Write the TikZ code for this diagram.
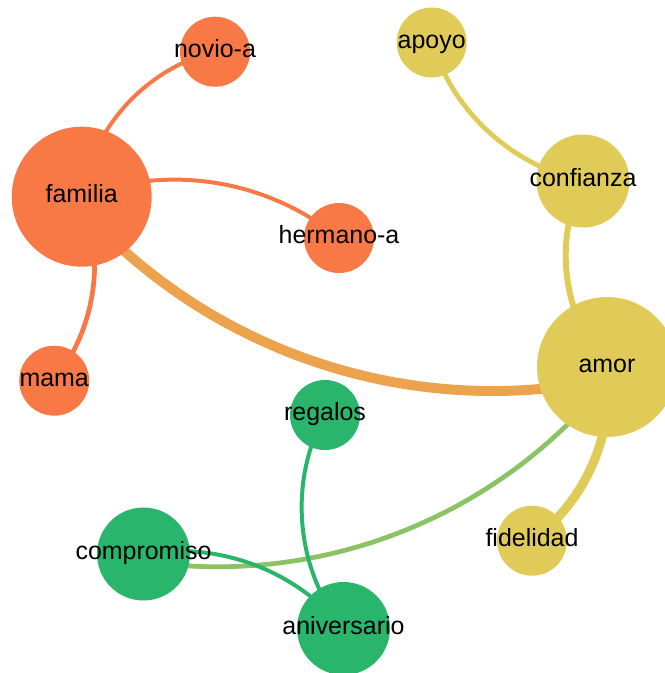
\documentclass[tikz,border=0pt]{standalone}
\usepackage{fontspec}
\setmainfont{Liberation Sans}
\usetikzlibrary{backgrounds}

% palette
\definecolor{famorange}{HTML}{F87946}
\definecolor{amoryellow}{HTML}{E1CB58}
\definecolor{giftgreen}{HTML}{2AB56C}
\definecolor{linkorange}{HTML}{EDA34E}
\definecolor{linkgreen}{HTML}{89C363}

\tikzset{
  term/.style={circle, inner sep=0pt, draw=none, minimum size=#1},
  small/.style={term=1.4cm},
  medium/.style={term=1.86cm},
  large/.style={term=2.8cm},
  word/.style={label={[font=\fontsize{14.2}{17}\selectfont, text height=10.65pt, text depth=3.55pt, yshift=0.4pt, text=black]center:#1}},
  link/.style={line cap=butt, looseness=0.912},
  thin/.style={line width=2.27pt},
  mid/.style={line width=2.7pt},
  wide/.style={line width=3.4pt},
  heavy/.style={line width=5.2pt},
  heaviest/.style={line width=5.67pt},
}

\begin{document}
\begin{tikzpicture}[x=0.02cm, y=-0.02cm]
  \useasboundingbox (0,0) rectangle (665,673);
  \clip (0,0) rectangle (665,673);

  % family cluster
  \node[large,  fill=famorange, word=familia]   (familia)  at (81.7,196.7) {};
  \node[small,  fill=famorange, word=novio-a]   (novio)    at (215,51.7) {};
  \node[small,  fill=famorange, word=hermano-a] (hermano)  at (339,238) {};
  \node[small,  fill=famorange, word=mama]      (mama)     at (54.2,380.7) {};

  % love cluster
  \node[small,  fill=amoryellow, word=apoyo]     (apoyo)     at (431.7,42.5) {};
  \node[medium, fill=amoryellow, word=confianza] (confianza) at (583,181) {};
  \node[large,  fill=amoryellow, word=amor]      (amor)      at (607,367) {};
  \node[small,  fill=amoryellow, word=fidelidad] (fidelidad) at (532,540.7) {};

  % commitment cluster
  \node[small,  fill=giftgreen, word=regalos]     (regalos)     at (325,415) {};
  \node[medium, fill=giftgreen, word=compromiso]  (compromiso)  at (143.5,554) {};
  \node[medium, fill=giftgreen, word=aniversario] (aniversario) at (343.5,628.5) {};

  % arcs between term centres, kept beneath the circles
  \begin{scope}[on background layer]
    \draw[link, thin, famorange]  (familia.center) to[bend left=34]  (novio.center);
    \draw[link, thin, famorange]  (familia.center) to[bend left=30]  (hermano.center);
    \draw[link, mid,  famorange]  (familia.center) to[bend left=30]  (mama.center);
    \draw[link, heaviest, linkorange]
      ([yshift=-6.8pt]familia.center) to[bend right=30] ([yshift=-6.8pt]amor.center);

    \draw[link, mid,   amoryellow] (apoyo.center)     to[bend right=30] (confianza.center);
    \draw[link, wide,  amoryellow] (confianza.center) to[bend right=34] (amor.center);
    \draw[link, heavy, amoryellow] (amor.center)      to[bend left=30]  (fidelidad.center);

    \draw[link, mid,  linkgreen]
      ([xshift=2.8pt, yshift=-4.5pt]amor.center) to[bend left=30] ([xshift=2.8pt, yshift=-4.5pt]compromiso.center);
    \draw[link, thin, giftgreen] (compromiso.center) to[bend left=30]  (aniversario.center);
    \draw[link, thin, giftgreen] (regalos.center)    to[bend right=34] (aniversario.center);
  \end{scope}
\end{tikzpicture}
\end{document}
